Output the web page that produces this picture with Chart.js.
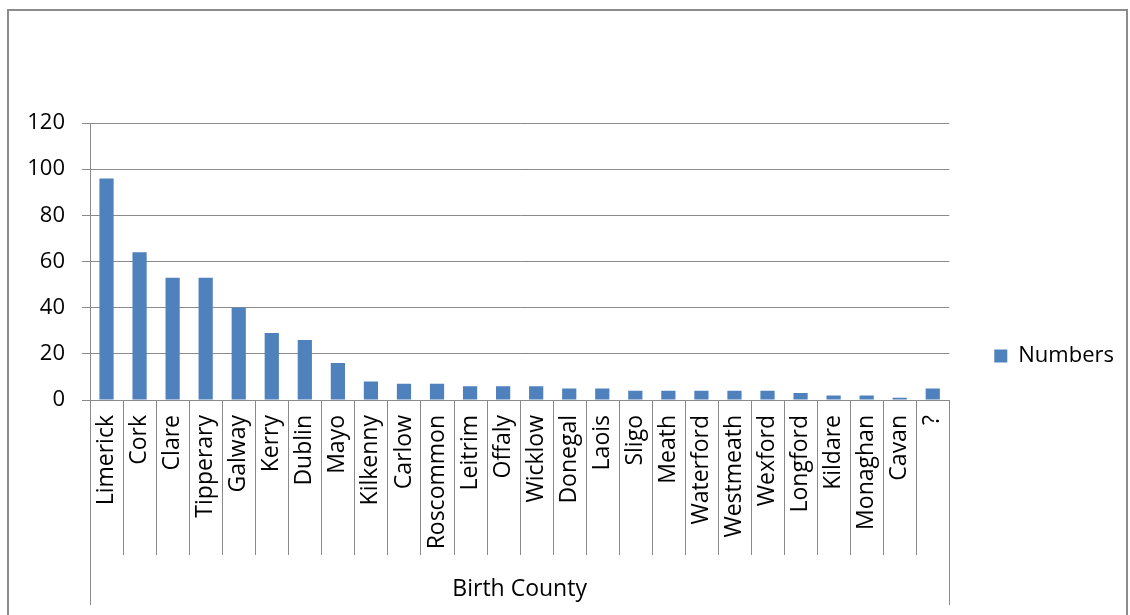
<!DOCTYPE html>
<html>
<head>
<meta charset="utf-8">
<script src="https://cdn.jsdelivr.net/npm/chart.js@4/dist/chart.umd.min.js"></script>
<style>
  html, body { margin: 0; padding: 0; background: #ffffff; }
  #wrap { width: 1130px; height: 615px; }
</style>
</head>
<body>
<div id="wrap"><canvas id="chart" width="1130" height="615"></canvas></div>
<script>
// Birth county of the people listed, by count
const counties = ['Limerick', 'Cork', 'Clare', 'Tipperary', 'Galway', 'Kerry', 'Dublin', 'Mayo',
  'Kilkenny', 'Carlow', 'Roscommon', 'Leitrim', 'Offaly', 'Wicklow', 'Donegal', 'Laois', 'Sligo',
  'Meath', 'Waterford', 'Westmeath', 'Wexford', 'Longford', 'Kildare', 'Monaghan', 'Cavan', '?'];
const numbers = [96, 64, 53, 53, 40, 29, 26, 16, 8, 7, 7, 6, 6, 6, 5, 5, 4, 4, 4, 4, 4, 3, 2, 2, 1, 5];
const yTicks = [0, 20, 40, 60, 80, 100, 120];

const FONT = "'Open Sans', 'DejaVu Sans', sans-serif";
const LINE = '#8a8a8a';

// Outer frame and the category dividers that run down through the label band
const framePlugin = {
  id: 'frame',
  beforeDraw(chart) {
    const ctx = chart.ctx;
    ctx.save();
    ctx.fillStyle = '#ffffff';
    ctx.fillRect(0, 0, chart.width, chart.height);
    ctx.strokeStyle = '#8c8c8c';
    ctx.lineWidth = 2;
    ctx.strokeRect(8, 10, chart.width - 11, chart.height + 40);
    ctx.restore();
  },
  afterDraw(chart) {
    const ctx = chart.ctx;
    const area = chart.chartArea;
    const n = counties.length;
    const step = (area.right - area.left) / n;
    const innerEnd = area.bottom + 155;
    const outerEnd = chart.height - 10;
    ctx.save();
    ctx.strokeStyle = LINE;
    ctx.lineWidth = 1;
    for (let i = 0; i <= n; i++) {
      const x = Math.round(area.left + i * step) + 0.5;
      ctx.beginPath();
      ctx.moveTo(x, area.bottom);
      ctx.lineTo(x, (i === 0 || i === n) ? outerEnd : innerEnd);
      ctx.stroke();
    }
    ctx.restore();
  }
};

new Chart(document.getElementById('chart'), {
  type: 'bar',
  data: {
    labels: counties,
    datasets: [{
      label: 'Numbers',
      data: numbers,
      backgroundColor: '#4f81bd',
      borderWidth: 0,
      barPercentage: 0.43,
      categoryPercentage: 1.0
    }]
  },
  options: {
    responsive: false,
    animation: false,
    layout: { padding: { top: 123, right: 6, bottom: 0, left: 0 } },
    plugins: {
      tooltip: { enabled: false },
      legend: {
        position: 'right',
        align: 'end',
        fullSize: false,
        labels: {
          boxWidth: 13,
          boxHeight: 13,
          padding: 33,
          color: '#000000',
          font: { family: FONT, size: 22 }
        }
      }
    },
    scales: {
      x: {
        grid: { display: false, drawTicks: false },
        border: { display: true, color: LINE, width: 1 },
        ticks: {
          autoSkip: false,
          minRotation: 90,
          maxRotation: 90,
          padding: 15,
          color: '#000000',
          font: { family: FONT, size: 23 }
        },
        title: {
          display: true,
          text: 'Birth County',
          color: '#000000',
          font: { family: FONT, size: 23 },
          padding: { top: 0, bottom: 12 }
        },
        afterFit(scale) { scale.height = 215; }
      },
      y: {
        min: 0,
        max: 120,
        afterBuildTicks(scale) { scale.ticks = yTicks.map(v => ({ value: v })); },
        grid: { color: LINE, lineWidth: 1, tickLength: 8, drawTicks: true },
        border: { display: true, color: LINE, width: 1 },
        ticks: {
          padding: 17,
          color: '#000000',
          font: { family: FONT, size: 22 }
        },
        afterFit(scale) { scale.width = 90; }
      },
      spacer: {
        type: 'linear',
        position: 'right',
        display: true,
        grid: { display: false, drawTicks: false },
        border: { display: false },
        ticks: { display: false },
        afterFit(scale) { scale.width = 12; }
      }
    }
  },
  plugins: [framePlugin]
});
</script>
</body>
</html>
